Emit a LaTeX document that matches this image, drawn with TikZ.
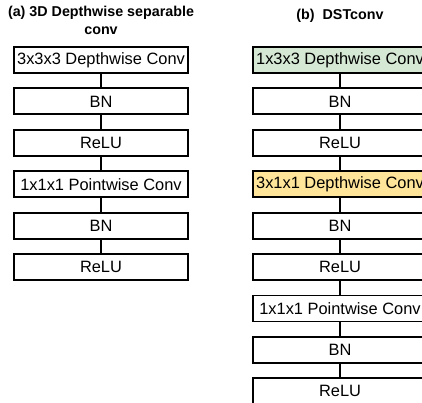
\documentclass[tikz,border=0pt]{standalone}
\usepackage{fontspec}
\setmainfont{Liberation Sans}
\usepackage{xcolor}
\usetikzlibrary{positioning}
\definecolor{dwgreen}{HTML}{D5E8D4}
\definecolor{dwyellow}{HTML}{FFE599}

\begin{document}
\begin{tikzpicture}[
  x=1pt, y=1pt,
  node distance=15.4pt,
  layer/.style={rectangle, draw, line width=1.8pt, minimum width=174pt, minimum height=26pt,
    inner sep=0pt, outer sep=0pt, font=\fontsize{16.4}{19}\selectfont},
  depthA/.style={layer, fill=dwgreen},
  depthB/.style={layer, fill=dwyellow},
  title/.style={align=center, font=\bfseries\fontsize{14.3}{18}\selectfont},
  link/.style={line width=1.8pt}
]
\useasboundingbox (0,0) rectangle (422,-403);
\clip (0,0) rectangle (422,-403);
% (a) 3D depthwise separable conv
\node[title] (ta) at (101,-20) {(a) 3D Depthwise separable\\conv};
\node[layer] (a1) at (101,-60) {3x3x3 Depthwise Conv};
\node[layer, below=of a1] (a2) {BN};
\node[layer, below=of a2] (a3) {ReLU};
\node[layer, below=of a3] (a4) {1x1x1 Pointwise Conv};
\node[layer, below=of a4] (a5) {BN};
\node[layer, below=of a5] (a6) {ReLU};
\draw[link] (a1) -- (a2);
\draw[link] (a2) -- (a3);
\draw[link] (a3) -- (a4);
\draw[link] (a4) -- (a5);
\draw[link] (a5) -- (a6);
% (b) DSTconv
\node[title] (tb) at (340,-16) {(b)\ \ DSTconv};
\node[depthA] (b1) at (340,-60) {1x3x3 Depthwise Conv};
\node[layer, below=of b1] (b2) {BN};
\node[layer, below=of b2] (b3) {ReLU};
\node[depthB, below=of b3] (b4) {3x1x1 Depthwise Conv};
\node[layer, below=of b4] (b5) {BN};
\node[layer, below=of b5] (b6) {ReLU};
\node[layer, below=of b6] (b7) {1x1x1 Pointwise Conv};
\node[layer, below=of b7] (b8) {BN};
\node[layer, below=of b8] (b9) {ReLU};
\draw[link] (b1) -- (b2);
\draw[link] (b2) -- (b3);
\draw[link] (b3) -- (b4);
\draw[link] (b4) -- (b5);
\draw[link] (b5) -- (b6);
\draw[link] (b6) -- (b7);
\draw[link] (b7) -- (b8);
\draw[link] (b8) -- (b9);
\end{tikzpicture}
\end{document}
